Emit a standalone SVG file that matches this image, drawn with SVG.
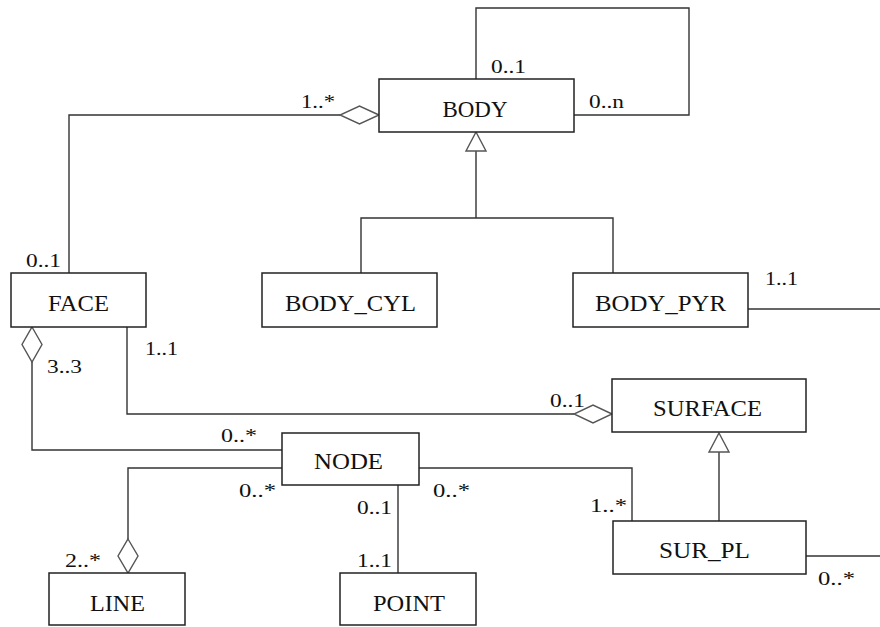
<svg xmlns="http://www.w3.org/2000/svg" width="880" height="627" viewBox="0 0 880 627">
  <style>
    .box { fill: #ffffff; stroke: #222222; stroke-width: 1.5; }
    .name { font-family: "Liberation Serif", "Times New Roman", serif; font-size: 24px; fill: #111111; text-anchor: middle; }
    .mult { font-family: "Liberation Serif", "Times New Roman", serif; font-size: 19px; fill: #111111; }
    .wire { fill: none; stroke: #333333; stroke-width: 1.4; }
    .agg { fill: #ffffff; stroke: #555555; stroke-width: 1.4; }
    .gen { fill: #ffffff; stroke: #555555; stroke-width: 1.4; }
  </style>
  <rect width="880" height="627" fill="#ffffff"/>

  <!-- connectors -->
  <g id="connectors">
    <!-- BODY self association -->
    <polyline class="wire" points="476,79 476,8 689,8 689,115 574,115"/>
    <!-- BODY aggregates FACE -->
    <polyline class="wire" points="340,115 69,115 69,273"/>
    <polygon class="agg" points="379,115 359.5,106 340,115 359.5,124"/>
    <!-- BODY generalisation -->
    <polyline class="wire" points="476,151 476,218"/>
    <polyline class="wire" points="361,273 361,218 613,218 613,273"/>
    <polygon class="gen" points="476,132 486,151 466,151"/>
    <!-- BODY_PYR outgoing -->
    <polyline class="wire" points="748,309 880,309"/>
    <!-- FACE aggregates NODE -->
    <polyline class="wire" points="32,362 32,450 282,450"/>
    <polygon class="agg" points="32,327 42,344.5 32,362 22,344.5"/>
    <!-- FACE to SURFACE -->
    <polyline class="wire" points="127,327 127,414 574,414"/>
    <polygon class="agg" points="612,414 593,405 574,414 593,423"/>
    <!-- NODE to LINE -->
    <polyline class="wire" points="282,468 128,468 128,539"/>
    <polygon class="agg" points="128,539 138,556 128,573 118,556"/>
    <!-- NODE to POINT -->
    <polyline class="wire" points="398,485 398,573"/>
    <!-- NODE to SUR_PL -->
    <polyline class="wire" points="419,468 632,468 632,521"/>
    <!-- SURFACE generalisation -->
    <polyline class="wire" points="719,452 719,521"/>
    <polygon class="gen" points="719,433 729,452 709,452"/>
    <!-- SUR_PL outgoing -->
    <polyline class="wire" points="806,556 880,556"/>

    <!-- multiplicities -->
    <text class="mult" x="491" y="73" textLength="35" lengthAdjust="spacingAndGlyphs">0..1</text>
    <text class="mult" x="589" y="108" textLength="35" lengthAdjust="spacingAndGlyphs">0..n</text>
    <text class="mult" x="301" y="108" textLength="34" lengthAdjust="spacingAndGlyphs">1..*</text>
    <text class="mult" x="26" y="267" textLength="35" lengthAdjust="spacingAndGlyphs">0..1</text>
    <text class="mult" x="145" y="355" textLength="33" lengthAdjust="spacingAndGlyphs">1..1</text>
    <text class="mult" x="47" y="373" textLength="35" lengthAdjust="spacingAndGlyphs">3..3</text>
    <text class="mult" x="765" y="285" textLength="33" lengthAdjust="spacingAndGlyphs">1..1</text>
    <text class="mult" x="550" y="407" textLength="35" lengthAdjust="spacingAndGlyphs">0..1</text>
    <text class="mult" x="221" y="442" textLength="36" lengthAdjust="spacingAndGlyphs">0..*</text>
    <text class="mult" x="239" y="497" textLength="37" lengthAdjust="spacingAndGlyphs">0..*</text>
    <text class="mult" x="357" y="514" textLength="35" lengthAdjust="spacingAndGlyphs">0..1</text>
    <text class="mult" x="433" y="497" textLength="37" lengthAdjust="spacingAndGlyphs">0..*</text>
    <text class="mult" x="590" y="512" textLength="37" lengthAdjust="spacingAndGlyphs">1..*</text>
    <text class="mult" x="65" y="567" textLength="36" lengthAdjust="spacingAndGlyphs">2..*</text>
    <text class="mult" x="357" y="567" textLength="35" lengthAdjust="spacingAndGlyphs">1..1</text>
    <text class="mult" x="818" y="585" textLength="37" lengthAdjust="spacingAndGlyphs">0..*</text>
  </g>

  <!-- classes -->
  <g id="body">
    <rect class="box" x="379" y="79" width="195" height="53"/>
    <text class="name" x="475" y="117" textLength="65" lengthAdjust="spacingAndGlyphs">BODY</text>
  </g>
  <g id="face">
    <rect class="box" x="11" y="273" width="135" height="54"/>
    <text class="name" x="78.5" y="311" textLength="61" lengthAdjust="spacingAndGlyphs">FACE</text>
  </g>
  <g id="body_cyl">
    <rect class="box" x="262" y="273" width="175" height="54"/>
    <text class="name" x="350.5" y="311" textLength="131" lengthAdjust="spacingAndGlyphs">BODY_CYL</text>
  </g>
  <g id="body_pyr">
    <rect class="box" x="573" y="273" width="175" height="54"/>
    <text class="name" x="660.5" y="311" textLength="131" lengthAdjust="spacingAndGlyphs">BODY_PYR</text>
  </g>
  <g id="surface">
    <rect class="box" x="612" y="379" width="194" height="53"/>
    <text class="name" x="707.5" y="416" textLength="109" lengthAdjust="spacingAndGlyphs">SURFACE</text>
  </g>
  <g id="node">
    <rect class="box" x="282" y="433" width="137" height="52"/>
    <text class="name" x="348.5" y="469" textLength="69" lengthAdjust="spacingAndGlyphs">NODE</text>
  </g>
  <g id="sur_pl">
    <rect class="box" x="613" y="521" width="193" height="53"/>
    <text class="name" x="704.5" y="558" textLength="91" lengthAdjust="spacingAndGlyphs">SUR_PL</text>
  </g>
  <g id="line">
    <rect class="box" x="49" y="573" width="136" height="52"/>
    <text class="name" x="117.5" y="611" textLength="55" lengthAdjust="spacingAndGlyphs">LINE</text>
  </g>
  <g id="point">
    <rect class="box" x="340" y="573" width="136" height="52"/>
    <text class="name" x="409" y="611" textLength="72" lengthAdjust="spacingAndGlyphs">POINT</text>
  </g>
</svg>
